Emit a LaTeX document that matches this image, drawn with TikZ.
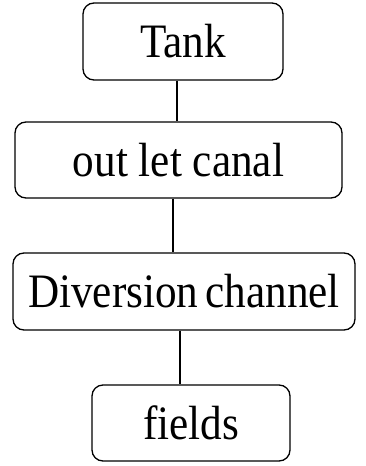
\documentclass[tikz,border=0pt]{standalone}
\usepackage{fontspec}
\setmainfont{Liberation Serif}
\newcommand\boxtext[1]{\scalebox{0.9}[1]{#1}}
\begin{document}
\begin{tikzpicture}[x=1pt,y=-1pt,
  flowbox/.style={draw, line width=1.3pt, rounded corners=11pt, inner sep=0pt,
    font=\fontsize{48}{50}\selectfont},
  link/.style={line width=1.1pt}]
\useasboundingbox[fill=white] (0,0) rectangle (366,466);
\node[flowbox, minimum width=200pt, minimum height=77pt] (tank) at (183,41.5) {\boxtext{Tank}};
\node[flowbox, minimum width=327pt, minimum height=76pt] (out) at (178.5,160) {\boxtext{out let canal}};
\node[flowbox, minimum width=342pt, minimum height=77pt] (div) at (184,291.5) {\boxtext{Diversion\hspace{-4pt} channel}};
\node[flowbox, minimum width=198pt, minimum height=76pt] (fields) at (191,423) {\boxtext{fields}};
\draw[link] ([xshift=-6pt]tank.south) -- ([xshift=-6pt]tank.south |- out.north);
\draw[link] ([xshift=-5.5pt]out.south) -- ([xshift=-5.5pt]out.south |- div.north);
\draw[link] ([xshift=-4pt]div.south) -- ([xshift=-4pt]div.south |- fields.north);
\end{tikzpicture}
\end{document}
